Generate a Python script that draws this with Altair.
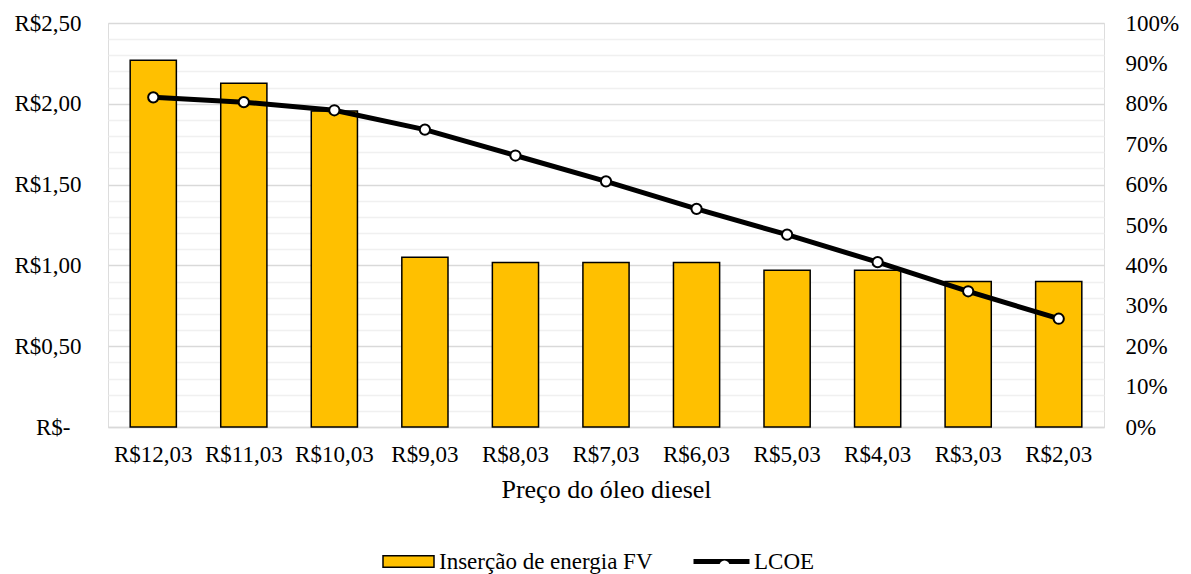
import altair as alt
import pandas as pd

# Diesel price scenarios (x categories)
precos = ["R$12,03", "R$11,03", "R$10,03", "R$9,03", "R$8,03", "R$7,03",
          "R$6,03", "R$5,03", "R$4,03", "R$3,03", "R$2,03"]
# PV energy share (right axis, fraction)
insercao_fv = [0.908, 0.851, 0.782, 0.420, 0.407, 0.407, 0.407, 0.388, 0.388, 0.360, 0.360]
# Levelized cost of energy (left axis, R$)
lcoe = [2.04, 2.01, 1.96, 1.84, 1.68, 1.52, 1.35, 1.19, 1.02, 0.84, 0.67]

# Axis tick values
ticks_rs = [round(i * 0.1, 1) for i in range(26)]
ticks_pct = [round(i * 0.1, 1) for i in range(11)]

df = pd.DataFrame({
    "preco": precos,
    "insercao": insercao_fv,
    "lcoe": lcoe,
    "s_barra": "Inserção de energia FV",
    "s_linha": "LCOE",
    "s_ponto": "LCOE ",
})

FONT = "Liberation Serif"

x_enc = alt.X(
    "preco:N", sort=precos,
    scale=alt.Scale(paddingInner=0.49, paddingOuter=0.245),
    axis=alt.Axis(title="Preço do óleo diesel", labelAngle=0, ticks=False,
                  domainColor="#d9d9d9", domainWidth=1.5,
                  labelFontSize=23, labelPadding=16, titleFontSize=26,
                  titleFontWeight="normal", titlePadding=10,
                  labelColor="#000", titleColor="#000"),
)

major = "round(datum.value*10) % 5 == 0"

bars = alt.Chart(df).mark_bar(stroke="#000", strokeWidth=1.5).encode(
    x=x_enc,
    y=alt.Y("insercao:Q", scale=alt.Scale(domain=[0, 1]),
            axis=alt.Axis(orient="right", values=ticks_pct, format=".0%",
                          grid=False, ticks=False, domain=False, title=None,
                          labelFontSize=23, labelPadding=21, labelColor="#000")),
    color=alt.Color("s_barra:N",
                    scale=alt.Scale(domain=["Inserção de energia FV"], range=["#FFC000"]),
                    legend=alt.Legend(title=None, orient="none", legendX=274, legendY=512,
                                      symbolType="M-1,-0.23L1,-0.23L1,0.23L-1,0.23Z",
                                      symbolSize=2601, symbolStrokeColor="#000",
                                      symbolStrokeWidth=1.5, symbolOpacity=1,
                                      labelFontSize=23, labelColor="#000",
                                      labelLimit=400, labelOffset=4, padding=0)),
)

y_lcoe = alt.Y(
    "lcoe:Q", scale=alt.Scale(domain=[0, 2.5], nice=False),
    axis=alt.Axis(orient="left", values=ticks_rs, title=None, ticks=False,
                  domain=False, grid=True, labelFontSize=23,
                  labelPadding={"condition": {"test": "datum.value == 0", "value": 38},
                                "value": 27},
                  labelColor="#000",
                  labelExpr=f"{major} ? (datum.value == 0 ? 'R$-' : 'R$' + replace(format(datum.value, '.2f'), '.', ',')) : ''",
                  gridColor={"condition": {"test": major, "value": "#d9d9d9"},
                             "value": "#f0f0f0"},
                  gridWidth=1.5),
)

base = alt.Chart(df).encode(x=alt.X("preco:N", sort=precos), y=y_lcoe)

line = base.mark_line(color="#000", strokeWidth=5).encode(
    stroke=alt.Stroke("s_linha:N",
                      scale=alt.Scale(domain=["LCOE"], range=["#000"]),
                      legend=alt.Legend(title=None, orient="none", legendX=583, legendY=508,
                                        symbolType="stroke", symbolSize=3136,
                                        symbolStrokeWidth=5, labelFontSize=23,
                                        labelColor="#000", labelOffset=2, padding=0)),
)

points = base.mark_point(filled=False, fill="white", stroke="#000",
                         strokeWidth=2, size=105, opacity=1).encode(
    shape=alt.Shape("s_ponto:N",
                    scale=alt.Scale(domain=["LCOE "], range=["circle"]),
                    legend=alt.Legend(title=None, orient="none", legendX=605, legendY=531,
                                      symbolSize=105, symbolFillColor="white",
                                      symbolStrokeColor="#000", symbolStrokeWidth=2,
                                      symbolOpacity=1, labelExpr="''",
                                      labelFontSize=23, padding=0)),
)

chart = alt.layer(bars, alt.layer(line, points)).resolve_scale(
    y="independent"
).properties(
    width=996, height=404,
    autosize=alt.AutoSizeParams(type="none"),
    padding={"left": 108, "top": 23, "right": 87, "bottom": 147},
    background="white",
).configure_view(stroke=None).configure(font=FONT)

chart.save("out.html", embed_options={"renderer": "svg", "actions": False})
